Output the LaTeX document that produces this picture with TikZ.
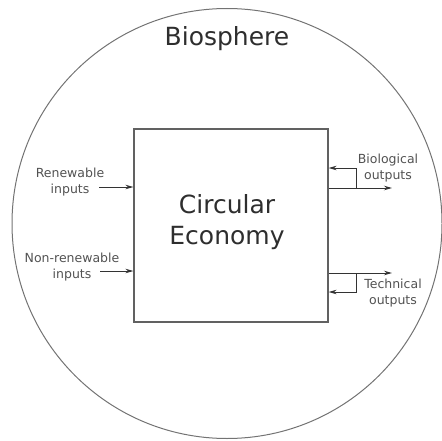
\documentclass[tikz,border=0pt]{standalone}
\usepackage{fontspec}
\setmainfont{DejaVu Sans}
\usetikzlibrary{arrows.meta}
\begin{document}
\begin{tikzpicture}[x=1pt,y=-1pt,
  flow/.style={draw=black!80, line width=0.9pt, -{Stealth[length=8pt,width=4.5pt]}},
  small/.style={font=\fontsize{12.5}{16.5}\selectfont, text=black!68, align=center, inner sep=0pt},
  big/.style={font=\fontsize{25}{31}\selectfont, text=black!82, align=center, inner sep=0pt}]
\useasboundingbox (0,0) rectangle (441,441);

% biosphere boundary and title
\node[circle, draw=black!55, line width=1pt, minimum size=430pt, inner sep=0pt] (bio) at (227,223.5) {};
\node[big] (title) at (227,39) {Biosphere};

% the economy box
\node[draw=black!62, line width=1.2pt, minimum width=194pt, minimum height=193pt, inner sep=0pt] (ce) at (231,225.5) {};
\node[big] (celabel) at (227,222) {Circular\\Economy};

% input labels and arrows
\node[small] (ren) at (70,182) {Renewable\\inputs};
\node[small] (nonren) at (72,267) {Non-renewable\\inputs};
\coordinate (renA) at (99,187);
\coordinate (nonA) at (100,271);
\draw[flow] (renA) -- (renA -| ce.west);
\draw[flow] (nonA) -- (nonA -| ce.west);

% output labels
\node[small] (bioout) at (388,168) {Biological\\outputs};
\node[small] (techout) at (393,293) {Technical\\outputs};

% biological outputs: out-flow with a return loop
\coordinate (bioEnd) at (392,188);
\coordinate (bioJ) at (356,188);
\coordinate (bioR) at (356,168);
\draw[flow] (bioEnd -| ce.east) -- (bioEnd);
\draw[flow] (bioJ) -- (bioR) -- (bioR -| ce.east);

% technical outputs: out-flow with a return loop
\coordinate (techEnd) at (392,273);
\coordinate (techJ) at (356,273);
\coordinate (techR) at (356,292);
\draw[flow] (techEnd -| ce.east) -- (techEnd);
\draw[flow] (techJ) -- (techR) -- (techR -| ce.east);
\end{tikzpicture}
\end{document}
